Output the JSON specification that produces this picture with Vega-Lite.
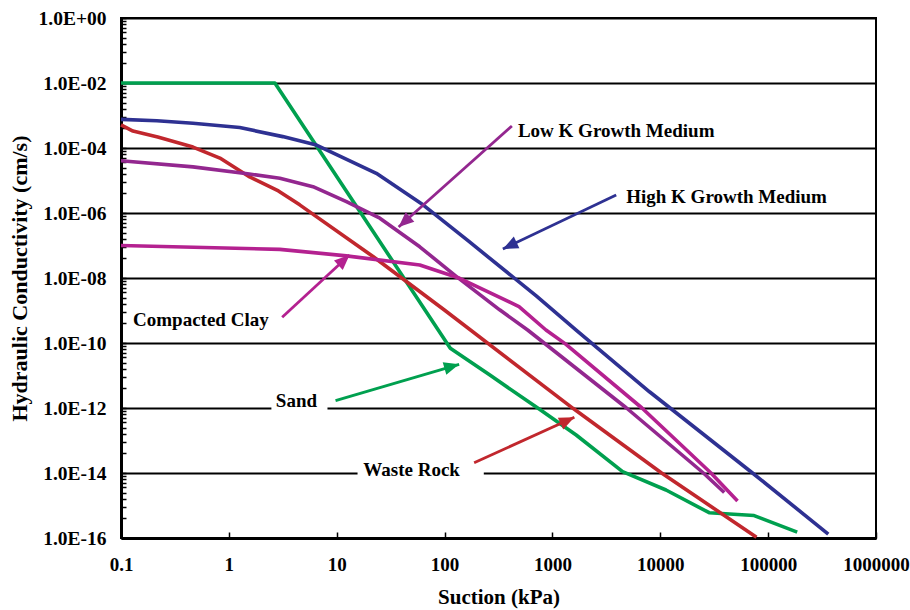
{
  "$schema": "https://vega.github.io/schema/vega-lite/v6.json",
  "width": 755,
  "height": 520,
  "autosize": {"type": "none"},
  "padding": {"left": 121, "top": 18, "right": 34, "bottom": 72},
  "background": "white",
  "config": {
    "view": {"stroke": "black", "strokeWidth": 2},
    "font": "Liberation Serif"
  },
  "datasets": {
    "curves": [
      {"series": "Sand", "x": 0.1, "y": 0.01},
      {"series": "Sand", "x": 2.67, "y": 0.01},
      {"series": "Sand", "x": 113, "y": 6.9e-11},
      {"series": "Sand", "x": 261, "y": 1.05e-11},
      {"series": "Sand", "x": 759, "y": 9.1e-13},
      {"series": "Sand", "x": 1660, "y": 1.48e-13},
      {"series": "Sand", "x": 4470, "y": 1.1e-14},
      {"series": "Sand", "x": 11300, "y": 3.0e-15},
      {"series": "Sand", "x": 28400, "y": 6.0e-16},
      {"series": "Sand", "x": 74100, "y": 4.9e-16},
      {"series": "Sand", "x": 186000, "y": 1.51e-16},
      {"series": "Waste Rock", "x": 0.1, "y": 5.13e-4},
      {"series": "Waste Rock", "x": 0.129, "y": 3.31e-4},
      {"series": "Waste Rock", "x": 0.219, "y": 2.19e-4},
      {"series": "Waste Rock", "x": 0.465, "y": 1.07e-4},
      {"series": "Waste Rock", "x": 0.826, "y": 4.9e-5},
      {"series": "Waste Rock", "x": 1.56, "y": 1.29e-5},
      {"series": "Waste Rock", "x": 2.88, "y": 4.79e-6},
      {"series": "Waste Rock", "x": 4.54, "y": 1.78e-6},
      {"series": "Waste Rock", "x": 21.7, "y": 4.57e-8},
      {"series": "Waste Rock", "x": 98.9, "y": 1.05e-9},
      {"series": "Waste Rock", "x": 1550, "y": 9.77e-13},
      {"series": "Waste Rock", "x": 10200, "y": 1.02e-14},
      {"series": "Waste Rock", "x": 78000, "y": 1.05e-16},
      {"series": "High K", "x": 0.1, "y": 7.59e-4},
      {"series": "High K", "x": 0.215, "y": 6.92e-4},
      {"series": "High K", "x": 0.465, "y": 5.75e-4},
      {"series": "High K", "x": 1.26, "y": 4.27e-4},
      {"series": "High K", "x": 3.16, "y": 2.24e-4},
      {"series": "High K", "x": 6.49, "y": 1.23e-4},
      {"series": "High K", "x": 23.3, "y": 1.66e-5},
      {"series": "High K", "x": 63.1, "y": 1.78e-6},
      {"series": "High K", "x": 166, "y": 1.38e-7},
      {"series": "High K", "x": 708, "y": 2.82e-9},
      {"series": "High K", "x": 1660, "y": 2.51e-10},
      {"series": "High K", "x": 7940, "y": 3.16e-12},
      {"series": "High K", "x": 71600, "y": 1e-14},
      {"series": "High K", "x": 361000, "y": 1.32e-16},
      {"series": "Low K", "x": 0.1, "y": 4.07e-5},
      {"series": "Low K", "x": 0.465, "y": 2.63e-5},
      {"series": "Low K", "x": 1.55, "y": 1.58e-5},
      {"series": "Low K", "x": 2.97, "y": 1.17e-5},
      {"series": "Low K", "x": 6.03, "y": 6.46e-6},
      {"series": "Low K", "x": 12.3, "y": 2.24e-6},
      {"series": "Low K", "x": 25.1, "y": 6.92e-7},
      {"series": "Low K", "x": 58.9, "y": 9.12e-8},
      {"series": "Low K", "x": 129, "y": 1.1e-8},
      {"series": "Low K", "x": 324, "y": 1.05e-9},
      {"series": "Low K", "x": 589, "y": 2.51e-10},
      {"series": "Low K", "x": 4860, "y": 1e-12},
      {"series": "Low K", "x": 25100, "y": 1e-14},
      {"series": "Low K", "x": 39200, "y": 2.51e-15},
      {"series": "Clay", "x": 0.1, "y": 1e-7},
      {"series": "Clay", "x": 2.97, "y": 7.59e-8},
      {"series": "Clay", "x": 12.3, "y": 4.79e-8},
      {"series": "Clay", "x": 58.9, "y": 2.51e-8},
      {"series": "Clay", "x": 138, "y": 9.77e-9},
      {"series": "Clay", "x": 490, "y": 1.32e-9},
      {"series": "Clay", "x": 871, "y": 2.51e-10},
      {"series": "Clay", "x": 1310, "y": 9.55e-11},
      {"series": "Clay", "x": 6760, "y": 1e-12},
      {"series": "Clay", "x": 29500, "y": 1e-14},
      {"series": "Clay", "x": 52000, "y": 1.38e-15}
    ],
    "arrows": [
      {"series": "Low K", "end": "tail", "x": 421, "y": 4.75e-4},
      {"series": "Low K", "end": "tip", "x": 37.5, "y": 3.71e-7},
      {"series": "High K", "end": "tail", "x": 3900, "y": 3.58e-6},
      {"series": "High K", "end": "tip", "x": 347, "y": 7.8e-8},
      {"series": "Clay", "end": "tail", "x": 3.12, "y": 6.18e-10},
      {"series": "Clay", "end": "tip", "x": 13.15, "y": 5.1e-8},
      {"series": "Sand", "end": "tail", "x": 9.75, "y": 1.68e-12},
      {"series": "Sand", "end": "tip", "x": 136.5, "y": 2.21e-11},
      {"series": "Waste Rock", "end": "tail", "x": 188, "y": 2.07e-14},
      {"series": "Waste Rock", "end": "tip", "x": 1598, "y": 5.17e-13}
    ],
    "labels": [
      {"label": "Low K Growth Medium", "x": 479, "y": 3.33e-4},
      {"label": "High K Growth Medium", "x": 4830, "y": 3.1e-6},
      {"label": "Compacted Clay", "x": 0.1293, "y": 5.1e-10},
      {"label": "Sand", "x": 4.23, "y": 1.64e-12},
      {"label": "Waste Rock", "x": 49.5, "y": 1.24e-14}
    ],
    "boxes": [
      {"label": "Sand", "x": 2.48, "x2": 8.21, "y": 3.1e-12, "y2": 7.5e-13},
      {"label": "Waste Rock", "x": 15.6, "x2": 231, "y": 2.5e-14, "y2": 5.3e-15}
    ]
  },
  "encoding": {
    "x": {
      "field": "x",
      "type": "quantitative",
      "scale": {"type": "log", "domain": [0.1, 1000000], "nice": false},
      "axis": {
        "title": "Suction (kPa)",
        "values": [0.1, 1, 10, 100, 1000, 10000, 100000, 1000000],
        "labelExpr": "format(datum.value, '~f')",
        "grid": false,
        "tickSize": -6,
        "tickWidth": 1.5,
        "tickColor": "black",
        "domainColor": "black",
        "domainWidth": 3,
        "labelFont": "Liberation Serif",
        "labelFontWeight": "bold",
        "labelFontSize": 19,
        "labelColor": "black",
        "labelPadding": 23,
        "labelFlush": false,
        "labelOverlap": false,
        "titleFont": "Liberation Serif",
        "titleFontWeight": "bold",
        "titleFontSize": 21,
        "titleColor": "black",
        "titlePadding": 12
      }
    },
    "y": {
      "field": "y",
      "type": "quantitative",
      "scale": {"type": "log", "domain": [1e-16, 1], "nice": false},
      "axis": {
        "title": "Hydraulic Conductivity (cm/s)",
        "values": [1, 0.81, 0.64, 0.49, 0.36, 0.25, 0.16, 0.09, 0.04,
          0.01, 0.0081, 0.0064, 0.0049, 0.0036, 0.0025, 0.0016, 0.0009, 0.0004,
          1e-4, 8.1e-5, 6.4e-5, 4.9e-5, 3.6e-5, 2.5e-5, 1.6e-5, 9e-6, 4e-6,
          1e-6, 8.1e-7, 6.4e-7, 4.9e-7, 3.6e-7, 2.5e-7, 1.6e-7, 9e-8, 4e-8,
          1e-8, 8.1e-9, 6.4e-9, 4.9e-9, 3.6e-9, 2.5e-9, 1.6e-9, 9e-10, 4e-10,
          1e-10, 8.1e-11, 6.4e-11, 4.9e-11, 3.6e-11, 2.5e-11, 1.6e-11, 9e-12, 4e-12,
          1e-12, 8.1e-13, 6.4e-13, 4.9e-13, 3.6e-13, 2.5e-13, 1.6e-13, 9e-14, 4e-14,
          1e-14, 8.1e-15, 6.4e-15, 4.9e-15, 3.6e-15, 2.5e-15, 1.6e-15, 9e-16, 4e-16,
          1e-16],
        "labelExpr": "abs(log(datum.value)/LN10 - round(log(datum.value)/LN10)) < 0.001 ? '1.0E' + (round(log(datum.value)/LN10) < 0 ? '-' : '+') + (abs(round(log(datum.value)/LN10)) < 10 ? '0' : '') + abs(round(log(datum.value)/LN10)) : ''",
        "grid": true,
        "gridColor": "black",
        "gridWidth": 2.2,
        "gridOpacity": {"condition": {"test": "abs(log(datum.value)/LN10 - round(log(datum.value)/LN10)) < 0.001", "value": 1}, "value": 0},
        "tickSize": -5,
        "tickWidth": 1.5,
        "tickColor": "black",
        "domainColor": "black",
        "domainWidth": 3,
        "labelFont": "Liberation Serif",
        "labelFontWeight": "bold",
        "labelFontSize": 19.5,
        "labelColor": "black",
        "labelPadding": 20,
        "labelFlush": false,
        "labelOverlap": false,
        "titleFont": "Liberation Serif",
        "titleFontWeight": "bold",
        "titleFontSize": 22,
        "titleColor": "black",
        "titlePadding": 7
      }
    }
  },
  "layer": [
    {
      "data": {"name": "curves"},
      "mark": {"type": "line", "strokeWidth": 3.6, "strokeJoin": "round"},
      "encoding": {
        "color": {"field": "series", "type": "nominal", "legend": null,
          "scale": {"domain": ["Sand", "Waste Rock", "High K", "Low K", "Clay"], "range": ["#00a04f", "#c1272d", "#2e3192", "#93278f", "#b42190"]}},
        "detail": {"field": "series"}
      }
    },
    {
      "data": {"name": "boxes"},
      "mark": {"type": "rect", "fill": "white"},
      "encoding": {"x2": {"field": "x2"}, "y2": {"field": "y2"}}
    },
    {
      "data": {"name": "arrows"},
      "mark": {"type": "line", "strokeWidth": 2.8},
      "encoding": {
        "color": {"field": "series", "type": "nominal", "legend": null,
          "scale": {"domain": ["Sand", "Waste Rock", "High K", "Low K", "Clay"], "range": ["#00a04f", "#c1272d", "#2e3192", "#93278f", "#b42190"]}},
        "detail": {"field": "series"}
      }
    },
    {
      "data": {"name": "arrows"},
      "transform": [{"filter": "datum.end == 'tip' && datum.series == 'Low K'"}],
      "mark": {"type": "point", "shape": "M0,0L-1.7,4L1.7,4Z", "filled": true, "opacity": 1, "size": 58, "angle": 228.2},
      "encoding": {"color": {"field": "series", "type": "nominal", "legend": null,
          "scale": {"domain": ["Sand", "Waste Rock", "High K", "Low K", "Clay"], "range": ["#00a04f", "#c1272d", "#2e3192", "#93278f", "#b42190"]}}}
    },
    {
      "data": {"name": "arrows"},
      "transform": [{"filter": "datum.end == 'tip' && datum.series == 'High K'"}],
      "mark": {"type": "point", "shape": "M0,0L-1.7,4L1.7,4Z", "filled": true, "opacity": 1, "size": 58, "angle": 244.5},
      "encoding": {"color": {"field": "series", "type": "nominal", "legend": null,
          "scale": {"domain": ["Sand", "Waste Rock", "High K", "Low K", "Clay"], "range": ["#00a04f", "#c1272d", "#2e3192", "#93278f", "#b42190"]}}}
    },
    {
      "data": {"name": "arrows"},
      "transform": [{"filter": "datum.end == 'tip' && datum.series == 'Clay'"}],
      "mark": {"type": "point", "shape": "M0,0L-1.7,4L1.7,4Z", "filled": true, "opacity": 1, "size": 58, "angle": 47.2},
      "encoding": {"color": {"field": "series", "type": "nominal", "legend": null,
          "scale": {"domain": ["Sand", "Waste Rock", "High K", "Low K", "Clay"], "range": ["#00a04f", "#c1272d", "#2e3192", "#93278f", "#b42190"]}}}
    },
    {
      "data": {"name": "arrows"},
      "transform": [{"filter": "datum.end == 'tip' && datum.series == 'Sand'"}],
      "mark": {"type": "point", "shape": "M0,0L-1.7,4L1.7,4Z", "filled": true, "opacity": 1, "size": 58, "angle": 73.9},
      "encoding": {"color": {"field": "series", "type": "nominal", "legend": null,
          "scale": {"domain": ["Sand", "Waste Rock", "High K", "Low K", "Clay"], "range": ["#00a04f", "#c1272d", "#2e3192", "#93278f", "#b42190"]}}}
    },
    {
      "data": {"name": "arrows"},
      "transform": [{"filter": "datum.end == 'tip' && datum.series == 'Waste Rock'"}],
      "mark": {"type": "point", "shape": "M0,0L-1.7,4L1.7,4Z", "filled": true, "opacity": 1, "size": 58, "angle": 65.4},
      "encoding": {"color": {"field": "series", "type": "nominal", "legend": null,
          "scale": {"domain": ["Sand", "Waste Rock", "High K", "Low K", "Clay"], "range": ["#00a04f", "#c1272d", "#2e3192", "#93278f", "#b42190"]}}}
    },
    {
      "data": {"name": "labels"},
      "transform": [{"filter": "datum.label != 'Sand' && datum.label != 'Waste Rock'"}],
      "mark": {"type": "text", "font": "Liberation Serif", "fontWeight": "bold", "fontSize": 19, "align": "left", "baseline": "middle", "color": "black"},
      "encoding": {"text": {"field": "label"}}
    },
    {
      "data": {"name": "labels"},
      "transform": [{"filter": "datum.label == 'Sand' || datum.label == 'Waste Rock'"}],
      "mark": {"type": "text", "font": "Liberation Serif", "fontWeight": "bold", "fontSize": 19, "align": "center", "baseline": "middle", "color": "black"},
      "encoding": {"text": {"field": "label"}}
    }
  ]
}
